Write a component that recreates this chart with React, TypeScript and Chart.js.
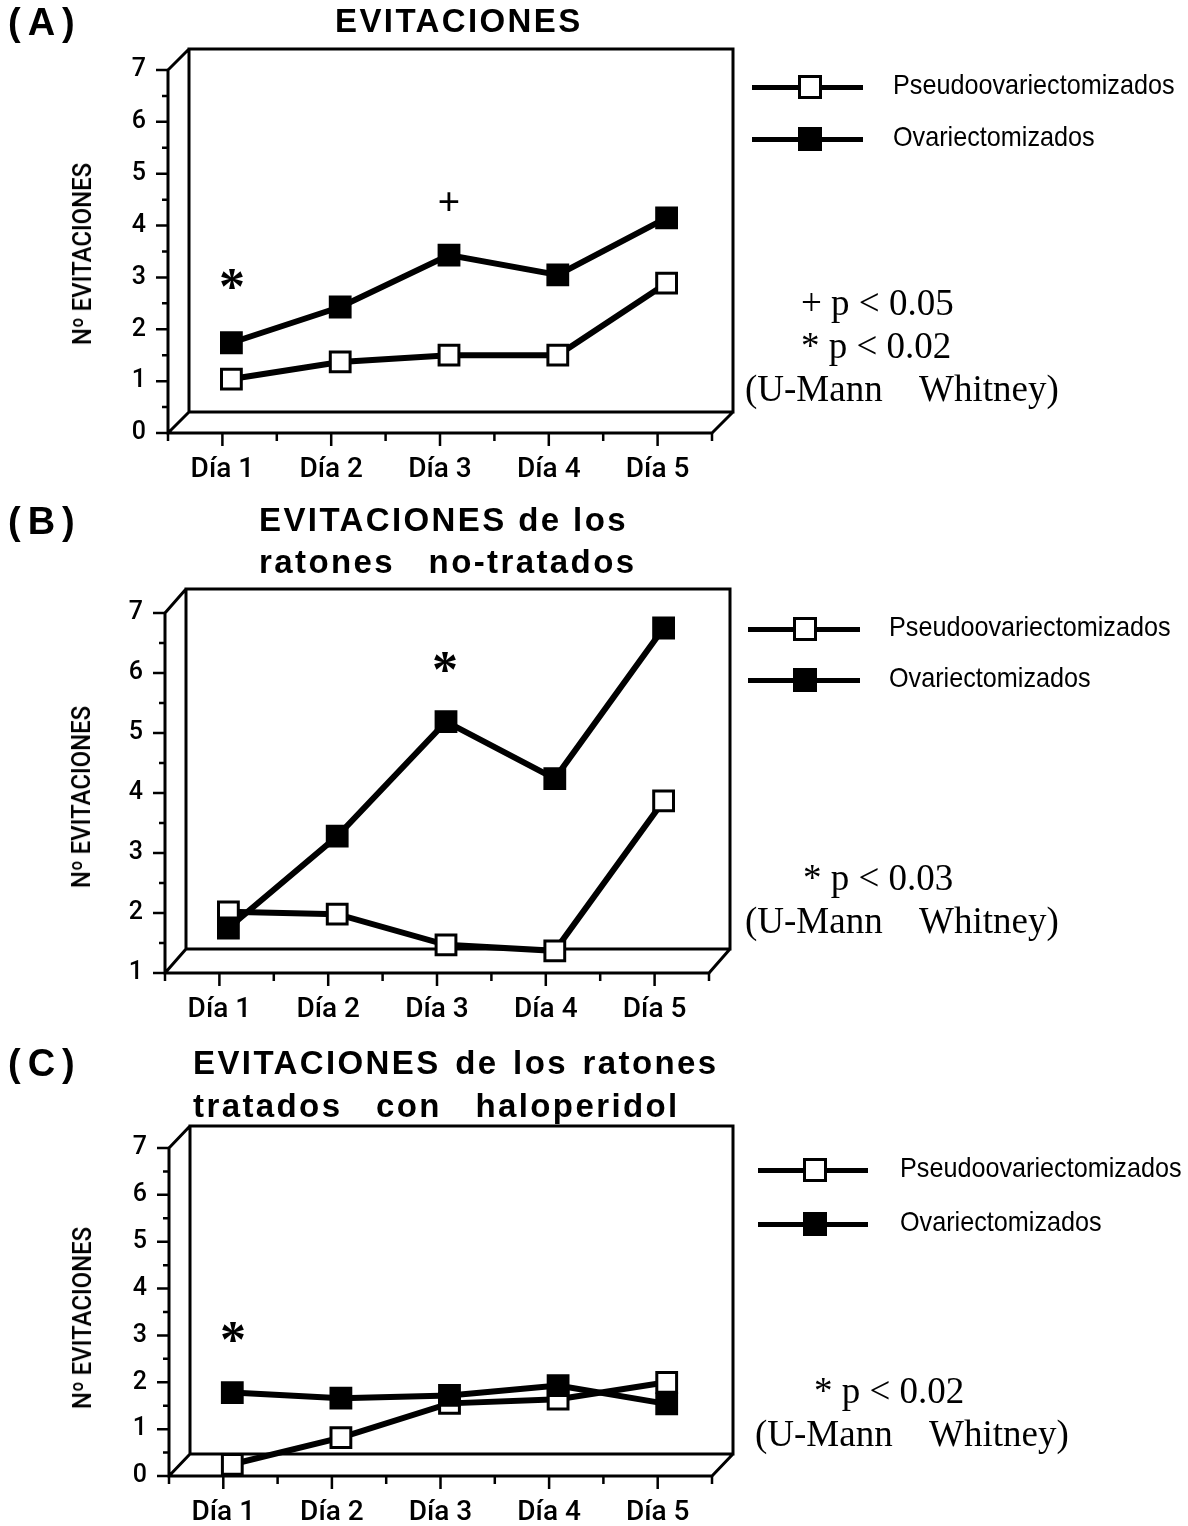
import React, { useEffect, useRef } from "react";
import { Chart, registerables } from "chart.js";

Chart.register(...registerables);

// ---------------- data ----------------
const categories = ["Día 1", "Día 2", "Día 3", "Día 4", "Día 5"];
const seriesNames = ["Pseudoovariectomizados", "Ovariectomizados"];

const pseudoA = [1.04, 1.37, 1.5, 1.5, 2.89];
const ovxA = [1.74, 2.43, 3.43, 3.05, 4.15];

const pseudoB = [2.02, 1.98, 1.47, 1.37, 3.87];
const ovxB = [1.75, 3.28, 5.19, 4.24, 6.75];

const pseudoC = [0.25, 0.82, 1.55, 1.64, 2.0];
const ovxC = [1.78, 1.66, 1.72, 1.93, 1.54];

const yRangeA = [0, 7];
const yRangeB = [1, 7];
const yRangeC = [0, 7];

const titleA = ["EVITACIONES"];
const titleB = ["EVITACIONES de los", "ratones no-tratados"];
const titleC = ["EVITACIONES de los ratones", "tratados con haloperidol"];
const panelLetters = ["(A)", "(B)", "(C)"];
const yAxisTitle = "Nº EVITACIONES";
const notesA = ["+ p < 0.05", "* p < 0.02", "(U-Mann    Whitney)"];
const notesB = ["* p < 0.03", "(U-Mann    Whitney)"];
const notesC = ["* p < 0.02", "(U-Mann    Whitney)"];

// ---------------- layout ----------------
const W = 1188;
const SANS = "'Liberation Sans', Arial, Helvetica, sans-serif";
const TICKFONT = "Roboto, 'Liberation Sans', Arial, sans-serif";
const SERIF = "'Liberation Serif', 'Times New Roman', serif";
const YW = 60; // forced y-axis box width
const XH = 50; // forced x-axis box height
const SHIFT = 9; // depth shift of the data plane

type PanelCfg = {
  top: number;
  height: number;
  L: number;
  R: number;
  T: number;
  B: number;
  dx: number;
  dy: number;
  yMin: number;
  yMax: number;
  pseudo: number[];
  ovx: number[];
};

const panels: PanelCfg[] = [
  { top: 0, height: 500, L: 168, R: 712, T: 70, B: 433, dx: 21, dy: 21, yMin: yRangeA[0], yMax: yRangeA[1], pseudo: pseudoA, ovx: ovxA },
  { top: 500, height: 530, L: 165, R: 709, T: 613, B: 973, dx: 21, dy: 24, yMin: yRangeB[0], yMax: yRangeB[1], pseudo: pseudoB, ovx: ovxB },
  { top: 1030, height: 496, L: 169, R: 712, T: 1148, B: 1476, dx: 21, dy: 22, yMin: yRangeC[0], yMax: yRangeC[1], pseudo: pseudoC, ovx: ovxC },
];

function PanelChart({ cfg }: { cfg: PanelCfg }) {
  const ref = useRef<HTMLCanvasElement>(null);
  useEffect(() => {
    const canvas = ref.current;
    if (!canvas) return;
    const frame = {
      id: "frame3d",
      beforeDatasetsDraw(chart: any) {
        const { ctx, chartArea: a, scales } = chart;
        const xs = scales.x;
        const ys = scales.y;
        const L = a.left, R = a.right, T = a.top, B = a.bottom;
        const dx = cfg.dx, dy = cfg.dy;
        ctx.save();
        ctx.strokeStyle = "#000";
        ctx.lineWidth = 3;
        ctx.lineJoin = "miter";
        ctx.beginPath();
        ctx.rect(L + dx, T - dy, R - L, B - T);
        ctx.moveTo(L, T);
        ctx.lineTo(L + dx, T - dy);
        ctx.moveTo(L, B);
        ctx.lineTo(L + dx, B - dy);
        ctx.moveTo(R, B);
        ctx.lineTo(R + dx, B - dy);
        ctx.moveTo(L, T);
        ctx.lineTo(L, B);
        ctx.lineTo(R, B);
        ctx.stroke();
        // y ticks (major + half)
        ctx.lineWidth = 2.5;
        ctx.beginPath();
        for (let v = cfg.yMin; v <= cfg.yMax + 1e-9; v += 0.5) {
          const py = ys.getPixelForValue(v);
          const len = Math.abs(v - Math.round(v)) < 1e-6 ? 12 : 6;
          ctx.moveTo(L - len, py);
          ctx.lineTo(L, py);
        }
        // x ticks: category centres (long) and boundaries (short)
        for (let i = 0; i < categories.length; i++) {
          const px = xs.getPixelForValue(i);
          ctx.moveTo(px, B);
          ctx.lineTo(px, B + 13);
        }
        for (let i = 0; i <= categories.length; i++) {
          const px = xs.getPixelForValue(i - 0.5);
          ctx.moveTo(px, B);
          ctx.lineTo(px, B + 8);
        }
        ctx.stroke();
        ctx.restore();
        // shift the data plane into depth
        ctx.save();
        ctx.translate(SHIFT, 0);
      },
      afterDatasetsDraw(chart: any) {
        chart.ctx.restore();
      },
    };

    const mk = (label: string, data: number[], fillColor: string) => ({
      label,
      data,
      borderColor: "#000",
      borderWidth: 6,
      pointStyle: "rect",
      pointRadius: 14,
      pointHoverRadius: 14,
      pointBackgroundColor: fillColor,
      pointBorderColor: "#000",
      pointBorderWidth: 3,
      tension: 0,
      fill: false,
      clip: false,
    });

    const chart = new Chart(canvas, {
      type: "line",
      data: {
        labels: categories,
        datasets: [mk(seriesNames[1], cfg.ovx, "#000"), mk(seriesNames[0], cfg.pseudo, "#fff")],
      },
      options: {
        responsive: false,
        animation: false,
        devicePixelRatio: 1,
        events: [],
        layout: {
          padding: {
            left: cfg.L - YW,
            right: W - cfg.R,
            top: cfg.T - cfg.top,
            bottom: cfg.top + cfg.height - cfg.B - XH,
          },
        },
        plugins: { legend: { display: false }, tooltip: { enabled: false }, title: { display: false } },
        scales: {
          x: {
            type: "category",
            offset: true,
            grid: { display: false, drawTicks: false },
            border: { display: false },
            ticks: {
              color: "#000",
              font: { family: TICKFONT, size: 28, weight: 500 },
              padding: 20,
              maxRotation: 0,
              autoSkip: false,
            },
            afterFit: (s: any) => {
              s.height = XH;
            },
          },
          y: {
            min: cfg.yMin,
            max: cfg.yMax,
            grid: { display: false, drawTicks: false },
            border: { display: false },
            ticks: {
              stepSize: 1,
              color: "#000",
              font: { family: TICKFONT, size: 25, weight: 500 },
              padding: 22,
            },
            afterFit: (s: any) => {
              s.width = YW;
            },
          },
        },
      } as any,
      plugins: [frame],
    });
    return () => chart.destroy();
  }, [cfg]);
  return (
    <canvas
      ref={ref}
      width={W}
      height={cfg.height}
      style={{ position: "absolute", left: 0, top: cfg.top, width: W, height: cfg.height }}
    />
  );
}

type TxtProps = {
  x: number;
  cy: number;
  size: number;
  family?: string;
  bold?: boolean;
  weight?: number;
  spacing?: number;
  wordSp?: number;
  sx?: number;
  text: string;
};

function Txt({ x, cy, size, family = SANS, bold = false, weight, spacing = 0, wordSp = 0, sx = 1, text }: TxtProps) {
  return (
    <div
      style={{
        position: "absolute",
        left: x,
        top: cy - size / 2,
        fontSize: size,
        lineHeight: `${size}px`,
        fontFamily: family,
        fontWeight: weight ?? (bold ? 700 : 400),
        whiteSpace: "pre",
        letterSpacing: spacing,
        wordSpacing: wordSp,
        color: "#000",
        transform: `scaleX(${sx})`,
        transformOrigin: "left center",
      }}
    >
      {text}
    </div>
  );
}

function Glyph({ cx, cy, size, ch, k, bold }: { cx: number; cy: number; size: number; ch: string; k: number; bold?: boolean }) {
  return (
    <div
      style={{
        position: "absolute",
        left: cx,
        top: cy - k * size,
        fontSize: size,
        lineHeight: `${size}px`,
        fontFamily: SERIF,
        fontWeight: bold ? 700 : 400,
        whiteSpace: "pre",
        color: "#000",
        transform: "translateX(-50%)",
      }}
    >
      {ch}
    </div>
  );
}

function YTitle({ cx, cy }: { cx: number; cy: number }) {
  return (
    <div
      style={{
        position: "absolute",
        left: cx,
        top: cy,
        fontSize: 26,
        lineHeight: "26px",
        fontFamily: TICKFONT,
        fontWeight: 500,
        whiteSpace: "pre",
        color: "#000",
        transform: "translate(-50%, -50%) rotate(-90deg) scaleX(0.92)",
      }}
    >
      {yAxisTitle}
    </div>
  );
}

function Legend({ x1, x2, cx, tx, y1, y2 }: { x1: number; x2: number; cx: number; tx: number; y1: number; y2: number }) {
  const entry = (y: number, fill: string, name: string) => (
    <React.Fragment key={name}>
      <div style={{ position: "absolute", left: x1, top: y - 2.5, width: x2 - x1, height: 5, background: "#000" }} />
      <div
        style={{
          position: "absolute",
          left: cx - 12,
          top: y - 12,
          width: 24,
          height: 24,
          boxSizing: "border-box",
          border: "3px solid #000",
          background: fill,
        }}
      />
      <Txt x={tx} cy={y - 2} size={28} sx={0.9} text={name} />
    </React.Fragment>
  );
  return (
    <>
      {entry(y1, "#fff", seriesNames[0])}
      {entry(y2, "#000", seriesNames[1])}
    </>
  );
}

export default function App() {
  const ts = 33;
  const tsp = 2.4;
  return (
    <div
      style={{
        position: "absolute",
        left: 0,
        top: 0,
        width: W,
        height: 1526,
        background: "#fff",
        overflow: "hidden",
      }}
    >
      {panels.map((p, i) => (
        <PanelChart key={i} cfg={p} />
      ))}

      {/* panel letters */}
      <Txt x={8} cy={22} size={38} bold spacing={7} text={panelLetters[0]} />
      <Txt x={8} cy={521} size={38} bold spacing={7} text={panelLetters[1]} />
      <Txt x={8} cy={1063} size={38} bold spacing={7} text={panelLetters[2]} />

      {/* titles */}
      <Txt x={335} cy={20} size={ts} bold spacing={tsp} text={titleA[0]} />
      <Txt x={259} cy={519} size={ts} bold spacing={tsp} text={titleB[0]} />
      <Txt x={259} cy={561} size={ts} bold spacing={tsp} wordSp={22} text={titleB[1]} />
      <Txt x={193} cy={1062} size={ts} bold spacing={tsp} wordSp={3} text={titleC[0]} />
      <Txt x={193} cy={1105} size={ts} bold spacing={tsp} wordSp={22} text={titleC[1]} />

      {/* y axis titles */}
      <YTitle cx={82} cy={254} />
      <YTitle cx={81} cy={797} />
      <YTitle cx={82} cy={1318} />

      {/* legends */}
      <Legend x1={752} x2={863} cx={810} tx={893} y1={87} y2={139} />
      <Legend x1={748} x2={860} cx={805} tx={889} y1={629} y2={680} />
      <Legend x1={758} x2={868} cx={815} tx={900} y1={1170} y2={1224} />

      {/* statistical notes */}
      <Txt x={801} cy={302} size={37} family={SERIF} text={notesA[0]} />
      <Txt x={801} cy={345} size={37} family={SERIF} text={notesA[1]} />
      <Txt x={745} cy={388} size={37} family={SERIF} text={notesA[2]} />
      <Txt x={803} cy={877} size={37} family={SERIF} text={notesB[0]} />
      <Txt x={745} cy={920} size={37} family={SERIF} text={notesB[1]} />
      <Txt x={814} cy={1390} size={37} family={SERIF} text={notesC[0]} />
      <Txt x={755} cy={1433} size={37} family={SERIF} text={notesC[1]} />

      {/* significance marks in plots */}
      <Glyph cx={232} cy={280} size={52} ch="*" k={0.3625} bold />
      <Glyph cx={449} cy={205} size={40} ch="+" k={0.5875} bold />
      <Glyph cx={445} cy={663} size={52} ch="*" k={0.3625} bold />
      <Glyph cx={233} cy={1333} size={52} ch="*" k={0.3625} bold />
    </div>
  );
}
